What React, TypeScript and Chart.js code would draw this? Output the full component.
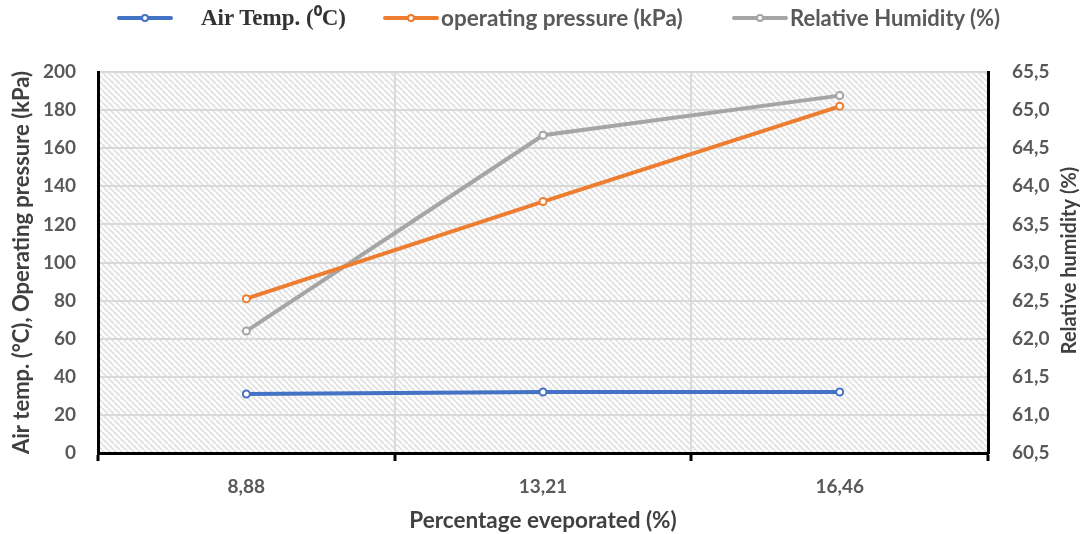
import React, { useEffect, useRef } from "react";
import { Chart, registerables } from "chart.js";

Chart.register(...registerables);

// ---- data ----
const categories = ["8,88", "13,21", "16,46"];
const airTemp = [31, 32, 32];
const operatingPressure = [81, 132, 182];
const relativeHumidity = [62.1, 64.67, 65.19];

const seriesLabels = ["Air Temp. (⁰C)", "operating pressure (kPa)", "Relative Humidity (%)"];
const seriesColors = ["#4472C4", "#ED7D31", "#A5A5A5"];

const leftAxisMin = 0;
const leftAxisMax = 200;
const leftAxisStep = 20;
const rightAxisMin = 60.5;
const rightAxisMax = 65.5;
const rightAxisStep = 0.5;

const xTitle = "Percentage eveporated (%)";
const leftTitle = "Air temp. (°C), Operating pressure (kPa)";
const rightTitle = "Relative humidity (%)";

const FONT = "Lato, 'Open Sans', sans-serif";
const TICK_COLOR = "#595959";
const TITLE_COLOR = "#404040";
const GRID_COLOR = "#d9d9d9";

const hatchPlugin = {
  id: "hatchBg",
  beforeDraw(chart: any) {
    const { ctx, chartArea: a } = chart;
    if (!a) return;
    const size = 6;
    const p = document.createElement("canvas");
    p.width = size;
    p.height = size;
    const pc = p.getContext("2d")!;
    pc.fillStyle = "#ffffff";
    pc.fillRect(0, 0, size, size);
    pc.strokeStyle = "#e3e3e3";
    pc.lineWidth = 2;
    pc.beginPath();
    for (const k of [-size, 0, size]) {
      pc.moveTo(k, 0);
      pc.lineTo(k + size, size);
    }
    pc.stroke();
    const pattern = ctx.createPattern(p, "repeat");
    ctx.save();
    ctx.fillStyle = pattern;
    ctx.fillRect(a.left, a.top, a.right - a.left, a.bottom - a.top);
    ctx.restore();
  },
};

// right-axis title reading bottom-to-top, as in the reference
const rightTitlePlugin = {
  id: "rightTitle",
  afterDraw(chart: any) {
    const { ctx, chartArea: a } = chart;
    const s = chart.scales.y1;
    if (!a || !s) return;
    ctx.save();
    ctx.translate(s.right - 22, (a.top + a.bottom) / 2 - 2);
    ctx.rotate(-Math.PI / 2);
    ctx.font = `normal bold 20px ${FONT}`;
    ctx.fillStyle = TITLE_COLOR;
    ctx.textAlign = "center";
    ctx.textBaseline = "middle";
    ctx.fillText(rightTitle, 0, 0);
    ctx.restore();
  },
};

function LegendMarker({ color }: { color: string }) {
  return (
    <span style={{ position: "relative", display: "inline-block", width: 56, height: 12, marginRight: 2 }}>
      <span
        style={{
          position: "absolute",
          left: 0,
          right: 0,
          top: 4,
          height: 4,
          background: color,
          borderRadius: 2,
        }}
      />
      <span
        style={{
          position: "absolute",
          left: 24,
          top: 2,
          width: 4,
          height: 4,
          borderRadius: "50%",
          border: `2px solid ${color}`,
          background: "#fff",
        }}
      />
    </span>
  );
}

export default function App() {
  const canvasRef = useRef<HTMLCanvasElement | null>(null);

  useEffect(() => {
    const canvas = canvasRef.current;
    if (!canvas) return;
    const pointCommon = {
      borderWidth: 4,
      pointRadius: 3.5,
      pointBorderWidth: 2,
      pointBackgroundColor: "#ffffff",
      tension: 0,
    };
    const chart = new Chart(canvas, {
      type: "line",
      data: {
        labels: categories,
        datasets: [
          {
            label: seriesLabels[0],
            data: airTemp,
            borderColor: seriesColors[0],
            pointBorderColor: seriesColors[0],
            yAxisID: "y",
            ...pointCommon,
          },
          {
            label: seriesLabels[1],
            data: operatingPressure,
            borderColor: seriesColors[1],
            pointBorderColor: seriesColors[1],
            yAxisID: "y",
            ...pointCommon,
          },
          {
            label: seriesLabels[2],
            data: relativeHumidity,
            borderColor: seriesColors[2],
            pointBorderColor: seriesColors[2],
            yAxisID: "y1",
            ...pointCommon,
          },
        ],
      },
      options: {
        responsive: false,
        animation: false,
        devicePixelRatio: 1,
        layout: { padding: { top: 72, left: 0, right: 0, bottom: 0 } },
        plugins: {
          legend: { display: false },
          tooltip: { enabled: false },
        },
        scales: {
          x: {
            type: "category",
            offset: true,
            grid: {
              offset: true,
              color: GRID_COLOR,
              lineWidth: 2,
              drawTicks: true,
              tickLength: 8,
              tickColor: "#000000",
              tickWidth: 3,
            },
            border: { color: "#000000", width: 3 },
            ticks: {
              color: TICK_COLOR,
              font: { family: FONT, size: 19, weight: "bold" },
              padding: 14,
            },
            title: {
              display: true,
              text: xTitle,
              color: TITLE_COLOR,
              font: { family: FONT, size: 22.5, weight: "bold" },
              padding: { top: 0, bottom: 0 },
            },
            afterFit: (s: any) => {
              s.height = 81;
            },
          },
          y: {
            type: "linear",
            position: "left",
            min: leftAxisMin,
            max: leftAxisMax,
            ticks: {
              stepSize: leftAxisStep,
              color: TICK_COLOR,
              font: { family: FONT, size: 19, weight: "bold" },
              padding: 22,
            },
            grid: { color: GRID_COLOR, lineWidth: 2, drawTicks: false },
            border: { color: "#000000", width: 3 },
            title: {
              display: true,
              text: leftTitle,
              color: TITLE_COLOR,
              font: { family: FONT, size: 22, weight: "bold" },
              padding: { top: 9, bottom: 0 },
            },
            afterFit: (s: any) => {
              s.width = 98;
            },
          },
          y1: {
            type: "linear",
            position: "right",
            min: rightAxisMin,
            max: rightAxisMax,
            ticks: {
              stepSize: rightAxisStep,
              color: TICK_COLOR,
              font: { family: FONT, size: 19, weight: "bold" },
              padding: 24,
              callback: (v: any) => Number(v).toFixed(1).replace(".", ","),
            },
            grid: { drawOnChartArea: false, drawTicks: false },
            border: { color: "#000000", width: 3 },
            title: { display: false },
            afterFit: (s: any) => {
              s.width = 104;
            },
          },
        },
      },
      plugins: [hatchPlugin, rightTitlePlugin],
    } as any);
    return () => chart.destroy();
  }, []);

  const legendLefts = [117, 383, 732];
  const legendFonts = [
    { fontFamily: "'Liberation Serif', 'Times New Roman', serif", fontWeight: 700, fontSize: 23, color: "#333333", marginLeft: 26 },
    { fontFamily: FONT, fontWeight: 700, fontSize: 22.5, color: TICK_COLOR, marginLeft: 0 },
    { fontFamily: FONT, fontWeight: 700, fontSize: 22, color: TICK_COLOR, marginLeft: 0 },
  ];

  return (
    <div style={{ position: "fixed", left: 0, top: 0, width: 1092, height: 534, background: "#fff" }}>
      <canvas ref={canvasRef} width={1092} height={534} style={{ position: "absolute", left: 0, top: 0 }} />
      {seriesLabels.map((lab, i) => (
        <div
          key={lab}
          style={{
            position: "absolute",
            left: legendLefts[i],
            top: 5,
            height: 26,
            display: "flex",
            alignItems: "center",
            whiteSpace: "nowrap",
          }}
        >
          <LegendMarker color={seriesColors[i]} />
          <span style={{ ...legendFonts[i], lineHeight: "26px" }}>{lab}</span>
        </div>
      ))}
    </div>
  );
}
